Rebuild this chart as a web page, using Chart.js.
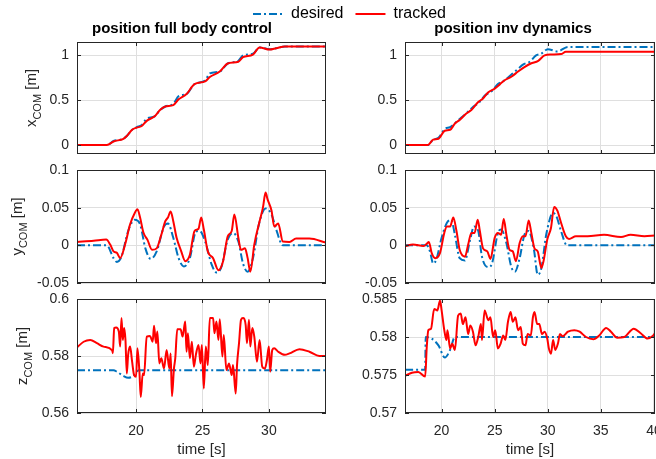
<!DOCTYPE html>
<html lang="en">
<head>
<meta charset="UTF-8">
<title>position full body control vs inv dynamics</title>
<script src="https://cdn.jsdelivr.net/npm/chart.js"></script>
<style>
    body { margin: 0; background: white; width: 656px; height: 459px; overflow: hidden; position: relative; }
    canvas { position: absolute; }
</style>
</head>
<body>
<script>
    // ---- data ----
    // x_COM, full body control (desired & tracked share the same time samples)
    const xFullT = [15.6, 17.8, 18.3, 19.05, 19.3, 19.7, 20.05, 20.4, 20.8, 21.4, 21.8, 22.2, 22.8, 23.2, 23.8, 24.4, 25.2, 25.55, 26.3, 26.9, 27.7, 28.05, 28.8, 29.3, 30.05, 30.55, 31.2, 34.3];
    const xFullDesired = [0, 0, 0.045, 0.07, 0.1, 0.17, 0.2, 0.22, 0.295, 0.32, 0.39, 0.43, 0.46, 0.545, 0.57, 0.68, 0.72, 0.8, 0.82, 0.91, 0.94, 1.0, 1.02, 1.09, 1.07, 1.08, 1.1, 1.1];
    const xFullTracked = [0, 0, 0.04, 0.07, 0.1, 0.17, 0.195, 0.21, 0.27, 0.32, 0.39, 0.43, 0.445, 0.51, 0.57, 0.68, 0.71, 0.76, 0.82, 0.91, 0.93, 0.98, 1.01, 1.09, 1.065, 1.08, 1.1, 1.1];

    // x_COM, inv dynamics
    const xInvDesT = [16.55, 18.7, 19.2, 19.7, 20.3, 20.8, 21.6, 22.3, 23.0, 23.5, 24.1, 24.7, 25.3, 25.9, 26.6, 27.1, 27.7, 28.3, 28.9, 29.4, 30.0, 30.9, 31.9, 40.1];
    const xInvDesired = [0, 0, 0.06, 0.08, 0.18, 0.2, 0.28, 0.35, 0.43, 0.47, 0.555, 0.6, 0.68, 0.72, 0.79, 0.84, 0.9, 0.93, 1.0, 1.02, 1.07, 1.045, 1.095, 1.095];
    const xInvT = [16.55, 18.7, 19.2, 19.7, 20.3, 20.8, 21.25, 21.7, 22.3, 22.8, 23.45, 23.9, 24.4, 25.0, 25.5, 25.9, 26.6, 27.2, 27.8, 28.4, 29.1, 29.7, 30.3, 31.25, 31.7, 40.1];
    const xInvTracked = [0, 0, 0.06, 0.07, 0.16, 0.17, 0.24, 0.28, 0.35, 0.39, 0.48, 0.52, 0.59, 0.63, 0.68, 0.72, 0.765, 0.82, 0.87, 0.91, 0.94, 1.0, 1.01, 1.015, 1.04, 1.04];

    // y_COM, full body control
    const yFullDesT = [15.55, 17.8, 18.3, 18.55, 18.9, 19.4, 19.9, 20.3, 20.7, 21.1, 21.55, 22.1, 22.4, 22.8, 23.2, 23.6, 24.05, 24.5, 24.8, 25.2, 25.7, 26.05, 26.4, 26.9, 27.3, 27.7, 28.05, 28.4, 28.8, 29.25, 29.75, 30.2, 30.55, 31.05, 34.3];
    const yFullDesired = [0, 0, -0.017, -0.022, -0.015, 0.019, 0.034, 0.028, -0.004, -0.018, -0.008, 0.025, 0.029, 0.01, -0.017, -0.028, -0.017, 0.018, 0.019, 0.005, -0.026, -0.036, -0.03, 0.0076, 0.0165, 0.005, -0.024, -0.035, -0.017, 0.028, 0.049, 0.041, 0.021, 0, 0];
    const yFullT = [15.55, 16.8, 17.75, 18.05, 18.3, 18.55, 18.8, 19.2, 19.55, 19.9, 20.1, 20.3, 20.55, 20.85, 21.2, 21.55, 21.9, 22.2, 22.4, 22.6, 22.8, 23.05, 23.4, 23.7, 24.05, 24.4, 24.7, 24.9, 25.1, 25.4, 25.8, 26.2, 26.55, 26.9, 27.2, 27.4, 27.7, 27.9, 28.2, 28.4, 28.6, 28.9, 29.3, 29.55, 29.75, 29.9, 30.2, 30.4, 30.7, 31.05, 31.55, 32.05, 33.05, 34.3];
    const yFullTracked = [0.0045, 0.006, 0.0076, 0.001, -0.008, -0.010, -0.017, 0.003, 0.028, 0.043, 0.048, 0.037, 0.017, 0.0076, -0.006, -0.004, 0.014, 0.032, 0.037, 0.045, 0.032, 0.01, -0.008, -0.021, -0.0125, 0.019, 0.022, 0.037, 0.021, -0.008, -0.017, -0.033, -0.021, 0.012, 0.019, 0.041, 0.01, -0.006, -0.004, -0.017, -0.035, 0.001, 0.032, 0.05, 0.07, 0.061, 0.046, 0.025, 0.029, 0.005, 0.0045, 0.009, 0.009, 0.0036];

    // y_COM, inv dynamics
    const yInvDesT = [16.56, 18.6, 18.9, 19.2, 19.5, 20.0, 20.5, 20.9, 21.25, 21.7, 22.2, 22.65, 23.05, 23.45, 23.8, 24.4, 24.75, 25.3, 25.6, 26.1, 26.55, 26.9, 27.35, 27.8, 28.2, 28.7, 29.05, 29.4, 29.85, 30.5, 30.8, 31.25, 31.8, 40.1];
    const yInvDesired = [0, 0, -0.008, -0.024, -0.019, 0.01, 0.03, 0.034, 0.014, -0.017, -0.02, 0.005, 0.025, 0.019, -0.015, -0.029, -0.024, 0.0165, 0.021, 0.003, -0.028, -0.035, -0.017, 0.014, 0.019, -0.006, -0.039, -0.03, 0.014, 0.043, 0.039, 0.019, 0, 0];
    const yInvT = [16.56, 17.3, 18.3, 18.6, 18.8, 19.06, 19.4, 19.85, 20.25, 20.5, 20.8, 21.1, 21.4, 21.7, 22.2, 22.5, 22.8, 23.1, 23.4, 23.6, 23.9, 24.3, 24.6, 25.0, 25.3, 25.6, 25.85, 26.1, 26.4, 26.7, 27.0, 27.35, 27.65, 27.9, 28.2, 28.45, 28.75, 29.05, 29.4, 29.6, 29.95, 30.3, 30.6, 30.9, 31.25, 31.7, 32.0, 32.65, 33.75, 35.3, 36.9, 37.8, 39.1, 40.1];
    const yInvTracked = [-0.001, 0.001, -0.001, 0.002, 0.0045, -0.01, -0.017, -0.01, 0.0165, 0.025, 0.025, 0.037, 0.019, -0.006, -0.015, 0.001, 0.0165, 0.0165, 0.034, 0.019, -0.004, -0.008, -0.018, 0.01, 0.0165, 0.014, 0.035, 0.014, -0.006, -0.008, -0.021, 0.003, 0.012, 0.012, 0.033, 0.0165, -0.004, -0.008, -0.03, -0.021, 0.0076, 0.023, 0.051, 0.046, 0.03, 0.012, 0.0085, 0.012, 0.012, 0.014, 0.011, 0.014, 0.012, 0.013];

    // z_COM, full body control
    const zFullDesT = [15.55, 18.3, 18.55, 19.05, 19.4, 19.8, 20.2, 34.3];
    const zFullDesired = [0.575, 0.575, 0.5745, 0.573, 0.5724, 0.573, 0.575, 0.575];
    const zFullT = [
        15.55, 16.05, 16.55, 17.05, 17.55, 18.2, 18.25, 18.35, 18.5, 18.7,
        18.8, 18.9, 19.0, 19.1, 19.2, 19.3, 19.4, 19.55, 19.7, 19.85,
        20.0, 20.1, 20.25, 20.35, 20.5, 20.6, 20.8, 21.05, 21.25, 21.35,
        21.5, 21.6, 21.75, 21.9, 22.1, 22.3, 22.5, 22.6, 22.7, 22.85,
        22.95, 23.1, 23.35, 23.5, 23.7, 23.8, 23.9, 24.05, 24.2, 24.35,
        24.5, 24.7, 24.85, 24.95, 25.1, 25.25, 25.4, 25.55, 25.8, 25.9,
        26.05, 26.2, 26.3, 26.5, 26.6, 26.8, 27.0, 27.2, 27.3, 27.5,
        27.6, 27.75, 27.9, 28.05, 28.25, 28.35, 28.5, 28.6, 28.75, 28.9,
        29.1, 29.3, 29.5, 29.7, 29.85, 30.0, 30.1, 30.25, 30.4, 30.7,
        31.2, 31.55, 32.3, 33.05, 33.8, 34.3
    ];
    const zFullTracked = [
        0.583, 0.585, 0.5856, 0.5845, 0.5833, 0.582, 0.581, 0.5898, 0.590, 0.5886,
        0.5833, 0.5933, 0.5856, 0.5898, 0.5856, 0.5739, 0.5804, 0.5833, 0.578, 0.5733,
        0.5727, 0.5827, 0.5745, 0.5656, 0.5739, 0.5733, 0.5868, 0.587, 0.585, 0.5906,
        0.5845, 0.5886, 0.5774, 0.5792, 0.5756, 0.5821, 0.5756, 0.5809, 0.5659, 0.5756,
        0.5792, 0.5894, 0.5894, 0.5868, 0.5921, 0.5815, 0.588, 0.5792, 0.585, 0.5762,
        0.5804, 0.5839, 0.5774, 0.5839, 0.5686, 0.5833, 0.5768, 0.5933, 0.5933, 0.588,
        0.5921, 0.5856, 0.5929, 0.5798, 0.5874, 0.5751, 0.5774, 0.5733, 0.5768, 0.5668,
        0.5768, 0.5845, 0.5927, 0.5933, 0.5909, 0.5845, 0.5927, 0.5833, 0.5898, 0.5868,
        0.578, 0.5856, 0.5762, 0.5756, 0.5786, 0.5833, 0.5745, 0.5821, 0.5827, 0.5815,
        0.5804, 0.5809, 0.5824, 0.5815, 0.58, 0.58
    ];

    // z_COM, inv dynamics
    const zInvDesT = [16.56, 18.45, 18.5, 19.06, 19.7, 20.3, 20.8, 21.25, 40.1];
    const zInvDesired = [0.5757, 0.5757, 0.58, 0.5798, 0.5789, 0.5773, 0.5783, 0.58, 0.58];
    const zInvT = [
        16.56, 17.2, 17.8, 18.45, 18.6, 18.75, 19.0, 19.3, 19.6, 19.85,
        20.0, 20.25, 20.45, 20.55, 20.8, 21.0, 21.25, 21.55, 21.8, 22.0,
        22.25, 22.5, 22.7, 22.95, 23.2, 23.45, 23.7, 23.8, 24.05, 24.4,
        24.6, 24.85, 25.05, 25.3, 25.55, 25.8, 26.0, 26.25, 26.5, 26.7,
        26.95, 27.2, 27.45, 27.65, 27.9, 28.1, 28.4, 28.6, 28.75, 29.0,
        29.2, 29.45, 29.7, 29.95, 30.1, 30.3, 30.5, 30.7, 30.95, 31.15,
        31.4, 31.9, 32.5, 33.0, 33.6, 34.3, 34.85, 35.5, 35.95, 36.55,
        37.2, 38.1, 38.75, 39.4, 39.85, 40.1
    ];
    const zInvTracked = [
        0.5749, 0.5753, 0.5754, 0.5748, 0.5787, 0.5809, 0.5811, 0.5837, 0.5835, 0.5848,
        0.5835, 0.5809, 0.5796, 0.5809, 0.5785, 0.5791, 0.5783, 0.5828, 0.5831, 0.5817,
        0.5826, 0.5804, 0.5815, 0.5807, 0.5789, 0.58, 0.5817, 0.5796, 0.5835, 0.5822,
        0.5826, 0.58, 0.5809, 0.5785, 0.5791, 0.5802, 0.5796, 0.582, 0.5833, 0.582,
        0.5826, 0.5809, 0.5813, 0.5791, 0.5789, 0.5804, 0.5802, 0.5826, 0.5833, 0.5817,
        0.5817, 0.5804, 0.5807, 0.5798, 0.5785, 0.5778, 0.5796, 0.5783, 0.5791, 0.5804,
        0.5801, 0.5807, 0.5809, 0.5807, 0.58, 0.5797, 0.5802, 0.5812, 0.5807, 0.5799,
        0.58, 0.5811, 0.5805, 0.5798, 0.5801, 0.5805
    ];

    // tick values
    const xTicksFull = [20, 25, 30];
    const xTicksInv = [20, 25, 30, 35, 40];
    const yTicksX = [0, 0.5, 1];
    const yTicksY = [-0.05, 0, 0.05, 0.1];
    const yTicksZFull = [0.56, 0.58, 0.6];
    const yTicksZInv = [0.57, 0.575, 0.58, 0.585];

    // ---- styling ----
    const FONT = '"Liberation Sans", Arial, Helvetica, sans-serif';
    const BLUE = '#0072BD';
    const RED = '#FF0000';
    const AXIS = '#262626';
    const GRID = '#dfdfdf';
    const DASHDOT = [8, 3, 2, 3];
    Chart.defaults.font.family = FONT;
    Chart.defaults.color = AXIS;

    const cols = [
        { left: 77, right: 326, yw: 77, padR: 8, xmin: 15.55, xmax: 34.3, xticks: xTicksFull, title: 'position full body control', titleX: 182 },
        { left: 405, right: 655, yw: 60, padR: 1, xmin: 16.55, xmax: 40.1, xticks: xTicksInv, title: 'position inv dynamics', titleX: 513 }
    ];
    const rows = [
        { top: 42, bottom: 154, padT: 40, ymin: -0.1, ymax: 1.15, label: 'x', labelX: 36 },
        { top: 170, bottom: 283, padT: 10, ymin: -0.05, ymax: 0.1, label: 'y', labelX: 22 },
        { top: 299, bottom: 413, padT: 10, ymin: 0.56, ymax: 0.6, label: 'z', labelX: 27 }
    ];

    const panels = [
        { c: 0, r: 0, yticks: yTicksX, des: [xFullT, xFullDesired], trk: [xFullT, xFullTracked] },
        { c: 1, r: 0, yticks: yTicksX, des: [xInvDesT, xInvDesired], trk: [xInvT, xInvTracked] },
        { c: 0, r: 1, yticks: yTicksY, des: [yFullDesT, yFullDesired], trk: [yFullT, yFullTracked] },
        { c: 1, r: 1, yticks: yTicksY, des: [yInvDesT, yInvDesired], trk: [yInvT, yInvTracked] },
        { c: 0, r: 2, yticks: yTicksZFull, des: [zFullDesT, zFullDesired], trk: [zFullT, zFullTracked] },
        { c: 1, r: 2, yticks: yTicksZInv, ymin: 0.57, ymax: 0.585, des: [zInvDesT, zInvDesired], trk: [zInvT, zInvTracked] }
    ];

    function pts(t, v) {
        return t.map((x, i) => ({ x: x, y: v[i] }));
    }

    function drawYLabel(ctx, area, main, x) {
        const big = '15px ' + FONT, small = '11px ' + FONT;
        ctx.save();
        ctx.translate(x, (area.top + area.bottom) / 2);
        ctx.rotate(-Math.PI / 2);
        ctx.fillStyle = AXIS;
        ctx.textAlign = 'left';
        ctx.textBaseline = 'alphabetic';
        ctx.font = big;
        const w1 = ctx.measureText(main).width;
        const w3 = ctx.measureText(' [m]').width;
        ctx.font = small;
        const w2 = ctx.measureText('COM').width;
        let px = -(w1 + w2 + w3) / 2;
        ctx.font = big; ctx.fillText(main, px, 0); px += w1;
        ctx.font = small; ctx.fillText('COM', px, 5); px += w2;
        ctx.font = big; ctx.fillText(' [m]', px, 0);
        ctx.restore();
    }

    function makePanel(p) {
        const col = cols[p.c], row = rows[p.r];
        const bottomRow = p.r === 2;
        const xh = bottomRow ? 46 : 6;
        const canvas = document.createElement('canvas');
        canvas.width = col.yw + (col.right - col.left) + col.padR;
        canvas.height = row.padT + (row.bottom - row.top) + xh;
        canvas.style.left = (col.left - col.yw) + 'px';
        canvas.style.top = (row.top - row.padT) + 'px';
        document.body.appendChild(canvas);

        const frame = {
            id: 'frame',
            afterDraw(chart) {
                const ctx = chart.ctx, a = chart.chartArea;
                const xs = chart.scales.x, ys = chart.scales.y;
                ctx.save();
                ctx.strokeStyle = AXIS;
                ctx.lineWidth = 1;
                ctx.strokeRect(a.left + 0.5, a.top + 0.5, a.right - a.left - 1, a.bottom - a.top - 1);
                ctx.beginPath();
                col.xticks.forEach(v => {
                    const px = Math.round(xs.getPixelForValue(v)) + 0.5;
                    ctx.moveTo(px, a.bottom); ctx.lineTo(px, a.bottom - 4);
                    ctx.moveTo(px, a.top); ctx.lineTo(px, a.top + 4);
                });
                p.yticks.forEach(v => {
                    const py = Math.round(ys.getPixelForValue(v)) + 0.5;
                    ctx.moveTo(a.left, py); ctx.lineTo(a.left + 4, py);
                    ctx.moveTo(a.right, py); ctx.lineTo(a.right - 4, py);
                });
                ctx.stroke();
                if (p.r === 0) {
                    ctx.fillStyle = '#000';
                    ctx.font = 'bold 15px ' + FONT;
                    ctx.textAlign = 'center';
                    ctx.textBaseline = 'middle';
                    ctx.fillText(col.title, col.titleX - (col.left - col.yw), a.top - 13);
                }
                ctx.restore();
                if (p.c === 0) drawYLabel(ctx, a, row.label, row.labelX);
            }
        };

        new Chart(canvas, {
            type: 'line',
            data: {
                datasets: [
                    {
                        label: 'tracked',
                        data: pts(p.trk[0], p.trk[1]),
                        borderColor: RED,
                        borderWidth: 2,
                        pointRadius: 0,
                        cubicInterpolationMode: 'monotone'
                    },
                    {
                        label: 'desired',
                        data: pts(p.des[0], p.des[1]),
                        borderColor: BLUE,
                        borderWidth: 2,
                        borderDash: DASHDOT,
                        pointRadius: 0,
                        cubicInterpolationMode: 'monotone'
                    }
                ]
            },
            options: {
                responsive: false,
                animation: false,
                events: [],
                layout: { padding: { left: 0, top: row.padT, right: col.padR, bottom: bottomRow ? 0 : 6 } },
                plugins: { legend: { display: false }, tooltip: { enabled: false } },
                scales: {
                    x: {
                        type: 'linear',
                        min: col.xmin,
                        max: col.xmax,
                        afterBuildTicks: s => { s.ticks = col.xticks.map(v => ({ value: v })); },
                        afterFit: s => { s.height = bottomRow ? xh : 0; s.paddingLeft = 0; s.paddingRight = 0; },
                        grid: { color: GRID, drawTicks: false },
                        border: { display: false },
                        ticks: { display: bottomRow, padding: 10, maxRotation: 0, autoSkip: false, font: { size: 14 }, color: AXIS },
                        title: { display: bottomRow, text: 'time [s]', font: { size: 15 }, color: AXIS, padding: 0 }
                    },
                    y: {
                        min: p.ymin !== undefined ? p.ymin : row.ymin,
                        max: p.ymax !== undefined ? p.ymax : row.ymax,
                        afterBuildTicks: s => { s.ticks = p.yticks.map(v => ({ value: v })); },
                        afterFit: s => { s.width = col.yw; s.paddingTop = 0; s.paddingBottom = 0; },
                        grid: { color: GRID, drawTicks: false },
                        border: { display: false },
                        ticks: { padding: 8, font: { size: 14 }, color: AXIS, callback: v => String(v) }
                    }
                }
            },
            plugins: [frame]
        });
    }

    panels.forEach(makePanel);

    // shared legend across the top
    const legendCanvas = document.createElement('canvas');
    legendCanvas.width = 260;
    legendCanvas.height = 80;
    legendCanvas.style.left = '241px';
    legendCanvas.style.top = '-6px';
    document.body.appendChild(legendCanvas);

    new Chart(legendCanvas, {
        type: 'line',
        data: {
            datasets: [
                { label: 'desired', data: [], borderColor: BLUE, borderWidth: 2, borderDash: DASHDOT },
                { label: 'tracked', data: [], borderColor: RED, borderWidth: 2 }
            ]
        },
        options: {
            responsive: false,
            animation: false,
            events: [],
            layout: { padding: 0 },
            scales: { x: { display: false }, y: { display: false } },
            plugins: {
                tooltip: { enabled: false },
                legend: {
                    display: true,
                    align: 'start',
                    labels: {
                        usePointStyle: true,
                        pointStyle: 'line',
                        pointStyleWidth: 30,
                        padding: 12,
                        color: '#000',
                        font: { size: 16 },
                        generateLabels: chart => chart.data.datasets.map((ds, i) => ({
                            text: ds.label,
                            datasetIndex: i,
                            strokeStyle: ds.borderColor,
                            fillStyle: ds.borderColor,
                            fontColor: '#000',
                            lineWidth: 2,
                            lineDash: ds.borderDash || [],
                            pointStyle: 'line',
                            hidden: false
                        }))
                    }
                }
            }
        }
    });
</script>
</body>
</html>
